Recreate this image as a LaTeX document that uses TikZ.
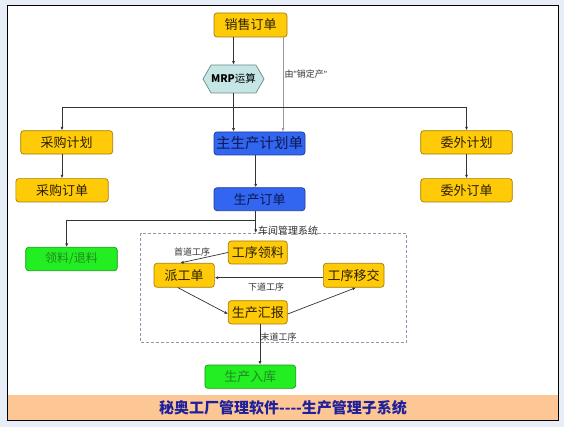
\documentclass[tikz,border=0pt]{standalone}
\usepackage{fontspec}
\setmainfont{Noto Sans CJK SC}
\newfontfamily\latinq{Liberation Sans}
\usetikzlibrary{arrows.meta,shapes.symbols}
\definecolor{bgcol}{HTML}{E8EEF8}
\definecolor{bandcol}{HTML}{FCC794}
\definecolor{yfill}{HTML}{FFCA08}
\definecolor{ydraw}{HTML}{A67C00}
\definecolor{ytext}{HTML}{2A2000}
\definecolor{bfill}{HTML}{3366F0}
\definecolor{bdraw}{HTML}{1C3C9C}
\definecolor{btext}{HTML}{0C1850}
\definecolor{gfill}{HTML}{22EE22}
\definecolor{gdraw}{HTML}{139A13}
\definecolor{gtext}{HTML}{238A23}
\definecolor{hfill}{HTML}{C6E6E6}
\definecolor{hdraw}{HTML}{6A8A8A}
\definecolor{lcol}{HTML}{333333}
\definecolor{lgray}{HTML}{9A9A9A}
\definecolor{dcol}{HTML}{8A9AB0}
\definecolor{tcol}{HTML}{20209A}
\definecolor{lbltext}{HTML}{333333}
\begin{document}
\begin{tikzpicture}[x=1pt,y=-1pt,
  box/.style={rounded corners=3pt, inner sep=0pt, line width=0.7pt, font=\fontsize{13}{15}\selectfont},
  ybox/.style={box, fill=yfill, draw=ydraw, text=ytext},
  bbox/.style={box, fill=bfill, draw=bdraw, text=btext},
  gbox/.style={box, fill=gfill, draw=gdraw, text=gtext},
  conn/.style={draw=lcol, line width=0.7pt, -{Latex[length=3.5pt,width=3pt]}},
  lbl/.style={font=\fontsize{9}{10}\selectfont, text=lbltext, inner sep=0.5pt},
]
\useasboundingbox (0,0) rectangle (564,427);
\fill[bgcol] (0,0) rectangle (564,427);
\fill[white] (7.3,6) rectangle (558.3,420);
\fill[bandcol] (7.3,395) rectangle (558.3,420);
\draw[black, line width=1pt] (7.3,6) rectangle (558.3,420);

% nodes
\node[ybox, minimum width=73pt, minimum height=24pt] (so) at (250.5,25) {销售订单};
\node[shape=signal, signal to=east and west, signal pointer angle=120, fill=hfill, draw=hdraw, line width=0.7pt, minimum width=61pt, minimum height=28pt, inner sep=0pt, font=\fontsize{10.5}{12}\selectfont, text=black] (mrp) at (233.5,79) {\textbf{MRP}运算};
\node[ybox, minimum width=92pt, minimum height=23.4pt] (cp) at (66.7,142.4) {采购计划};
\node[bbox, minimum width=91pt, minimum height=23pt, font=\fontsize{14.5}{16}\selectfont] (mp) at (259.5,143.5) {主生产计划单};
\node[ybox, minimum width=91.6pt, minimum height=23.4pt] (wp) at (466.5,142.4) {委外计划};
\node[ybox, minimum width=92.3pt, minimum height=23.3pt] (co) at (62,190.3) {采购订单};
\node[bbox, minimum width=91pt, minimum height=23pt] (po) at (259.5,199.2) {生产订单};
\node[ybox, minimum width=91.6pt, minimum height=23.3pt] (wo) at (466.5,190.3) {委外订单};
\node[gbox, minimum width=91.6pt, minimum height=23.4pt, font=\fontsize{12}{14}\selectfont] (ll) at (71.5,259) {领料/退料};

\node[draw=dcol, dash pattern=on 3pt off 2pt, line width=0.6pt, minimum width=266pt, minimum height=108.7pt, inner sep=0pt] (ws) at (273.7,287.65) {};
\node[ybox, minimum width=59pt, minimum height=23pt] (gl) at (257.8,252.5) {工序领料};
\node[ybox, minimum width=60.3pt, minimum height=24pt] (pg) at (184.2,275.3) {派工单};
\node[ybox, minimum width=60.7pt, minimum height=24pt] (yj) at (353.7,275.3) {工序移交};
\node[ybox, minimum width=59pt, minimum height=23.3pt] (hb) at (257.8,312.3) {生产汇报};
\node[gbox, minimum width=90.7pt, minimum height=23.3pt] (rk) at (250.3,376.7) {生产入库};

% helper coordinates
\coordinate (bus) at (0,107);
\coordinate (c1) at (283,0);
\coordinate (c2) at (255.7,0);
\coordinate (c3) at (66.7,0);
\coordinate (jn) at (0,220);

% connectors
\draw[conn] (so.south -| mrp.north) -- (mrp.north);
\draw[conn, draw=lgray, line width=0.6pt] (so.south -| c1) -- (mp.north -| c1);
\node[lbl, anchor=west] (l1) at (284,74) {由{\latinq"}销定产{\latinq"}};
\draw[conn] (mrp.south) -- (mp.north -| mrp.south);
\draw[conn] (mrp.south |- bus) -| (cp.north -| co.north);
\draw[conn] (mrp.south |- bus) -| (wp.north);
\draw[conn] (cp.south -| co.north) -- (co.north);
\draw[conn] (wp.south) -- (wo.north);
\draw[conn] (mp.south -| c2) -- (po.north -| c2);
\draw[conn] (po.south -| c2) -- (ws.north -| c2);
\draw[conn] (c2 |- jn) -| (ll.north -| c3);
\node[lbl, anchor=west, font=\fontsize{10}{11}\selectfont] (l2) at (257.5,230.3) {车间管理系统};

\draw[conn] (gl.west) -- ([xshift=-4pt]pg.north);
\node[lbl] (l3) at (192,252) {首道工序};
\draw[conn] ([yshift=-2.4pt]yj.west) -- ([yshift=-2.4pt]pg.east);
\node[lbl] (l4) at (266,287.5) {下道工序};
\draw[conn] ([xshift=-6.3pt]pg.south) -- ([yshift=-1.7pt]hb.west);
\draw[conn] ([yshift=-1.7pt]hb.east) -- ([xshift=2.3pt]yj.south);
\draw[conn] ([xshift=2.2pt]hb.south) -- ([xshift=2.2pt]hb.south |- rk.north);
\node[lbl, anchor=west] (l5) at (260,337.5) {末道工序};

\node[font=\bfseries\fontsize{15}{17}\selectfont, text=tcol, inner sep=0pt] (title) at (283,407.5) {秘奥工厂管理软件-{}-{}-{}-生产管理子系统};
\end{tikzpicture}
\end{document}
